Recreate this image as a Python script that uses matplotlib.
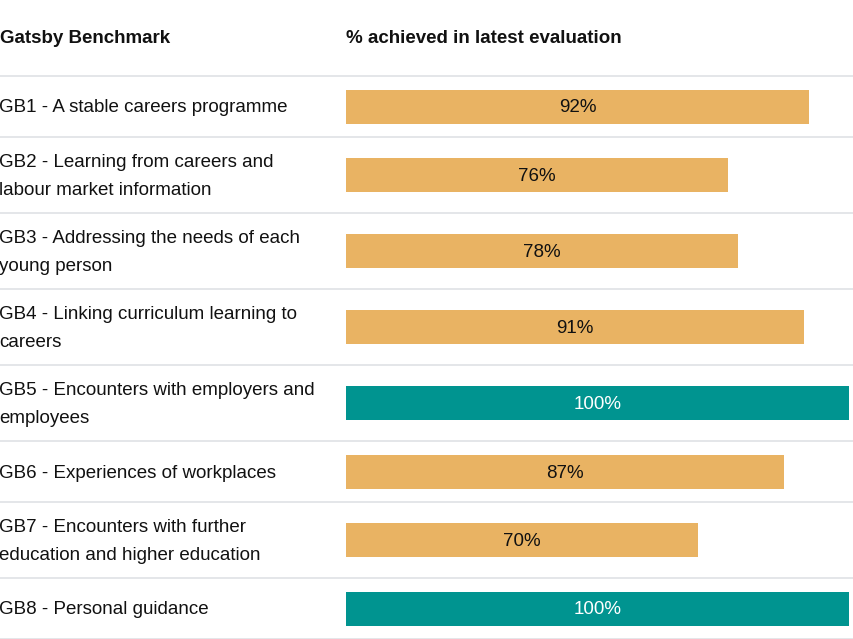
import matplotlib
matplotlib.use("Agg")
import matplotlib.pyplot as plt
import matplotlib.transforms as mtransforms

plt.rcParams['font.family'] = ['Liberation Sans', 'DejaVu Sans']

labels = [
    "GB1 - A stable careers programme",
    "GB2 - Learning from careers and\nlabour market information",
    "GB3 - Addressing the needs of each\nyoung person",
    "GB4 - Linking curriculum learning to\ncareers",
    "GB5 - Encounters with employers and\nemployees",
    "GB6 - Experiences of workplaces",
    "GB7 - Encounters with further\neducation and higher education",
    "GB8 - Personal guidance",
]
values = [92, 76, 78, 91, 100, 87, 70, 100]
header_left = "Gatsby Benchmark"
header_right = "% achieved in latest evaluation"

W, H = 854, 639
fig = plt.figure(figsize=(W / 100, H / 100), dpi=100)
ax = fig.add_axes([0, 0, 1, 1])

# layout in pixel units
bar_left_px = 346
px_per_unit = (849 - 346) / 100.0
ax.set_xlim(-bar_left_px / px_per_unit, (W - bar_left_px) / px_per_unit)
ax.set_ylim(H, 0)
ax.axis('off')

orange = '#E9B363'
teal = '#009490'
sep_color = '#DFE1E5'
fs = 13.5
toff = 1.5

header_bottom = 76
row_h = {1: 61, 2: 76}
tops = []
centers = []
y = header_bottom
for lab in labels:
    n = lab.count("\n") + 1
    h = row_h[n]
    tops.append(y)
    centers.append(y + h / 2)
    y += h
bottoms = [t + row_h[l.count("\n") + 1] for t, l in zip(tops, labels)]

trans = mtransforms.blended_transform_factory(ax.transAxes, ax.transData)

# separators
for yy in [header_bottom] + bottoms:
    ax.plot([0, 1], [yy, yy], transform=trans, color=sep_color, lw=1.2,
            solid_capstyle='butt', zorder=1)

colors = [teal if v >= 100 else orange for v in values]
ax.barh(centers, values, height=34, left=0, color=colors, zorder=2)

for c, v, col in zip(centers, values, colors):
    ax.text(v / 2, c + toff, f"{v}%", ha='center', va='center', fontsize=fs,
            color='white' if col == teal else '#111111', zorder=3)

for c, lab in zip(centers, labels):
    ax.text(-0.001, c + toff, lab, transform=trans, ha='left', va='center',
            fontsize=fs, color='#111111', linespacing=1.8)

ax.text(0, 37 + toff, header_left, transform=trans, ha='left', va='center',
        fontsize=fs, fontweight='bold', color='#111111')
ax.text(0, 37 + toff, header_right, ha='left', va='center', fontsize=fs,
        fontweight='bold', color='#111111')

fig.savefig("out.png", dpi=100, facecolor='white')
